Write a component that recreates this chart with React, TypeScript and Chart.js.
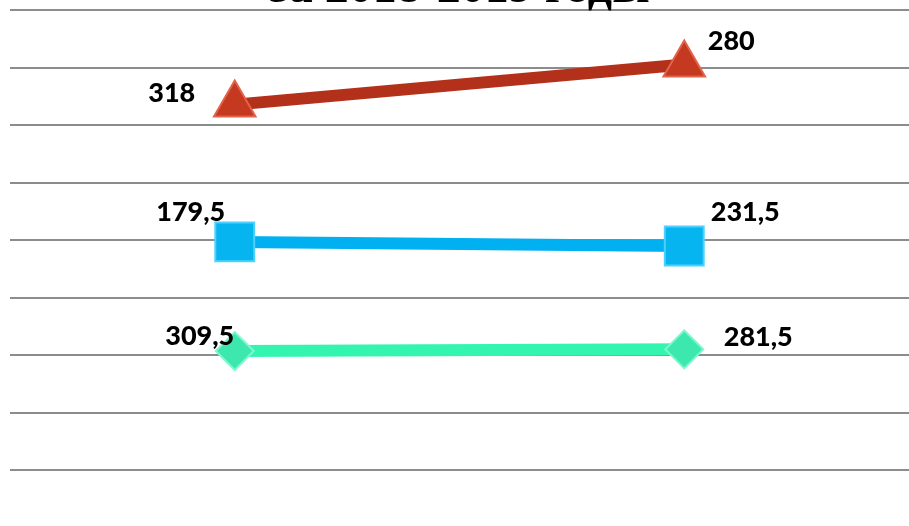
import React, { useEffect, useRef } from "react";
import { Chart, registerables } from "chart.js";

Chart.register(...registerables);

// ---- data ----
const categories = ["2018", "2019"];
const titleText = "за 2018-2019 годы";

// plotted positions (axis units 0..800)
const redValues = [636, 706];
const blueValues = [397, 390];
const greenValues = [207, 210];

// data label texts as printed on the chart
const redLabels = ["318", "280"];
const blueLabels = ["179,5", "231,5"];
const greenLabels = ["309,5", "281,5"];

const yMin = 0;
const yMax = 800;
const yStep = 100;

const HIDDEN_TOP = 60;
const CANVAS_W = 909;
const CANVAS_H = 526 + HIDDEN_TOP;

const labelPlugin = {
  id: "manualLabels",
  afterDatasetsDraw(chart: any) {
    const ctx = chart.ctx;
    ctx.save();
    ctx.font = "900 27px Lato";
    ctx.fillStyle = "#000000";
    ctx.textAlign = "center";
    ctx.textBaseline = "middle";
    chart.data.datasets.forEach((ds: any, di: number) => {
      const meta = chart.getDatasetMeta(di);
      meta.data.forEach((pt: any, i: number) => {
        const off = ds.labelOffsets[i];
        ctx.fillText(ds.labelTexts[i], pt.x + off[0], pt.y + off[1]);
      });
    });
    ctx.restore();
  },
};

export default function App() {
  const ref = useRef<HTMLCanvasElement | null>(null);

  useEffect(() => {
    if (!ref.current) return;
    const chart = new Chart(ref.current, {
      type: "line",
      data: {
        labels: categories,
        datasets: [
          {
            label: "red",
            data: redValues,
            borderColor: "#B3301B",
            backgroundColor: "#C0391F",
            borderWidth: 12,
            pointStyle: "triangle",
            pointRadius: 24,
            pointBackgroundColor: "#C4391F",
            pointBorderColor: "#E2634A",
            pointBorderWidth: 2,
            labelTexts: redLabels,
            labelOffsets: [[-63, -11], [47, -23]],
          } as any,
          {
            label: "blue",
            data: blueValues,
            borderColor: "#00B0F0",
            backgroundColor: "#00B0F0",
            borderWidth: 12,
            pointStyle: "rect",
            pointRadius: 27.5,
            pointBackgroundColor: "#06B4F0",
            pointBorderColor: "#4FD0FF",
            pointBorderWidth: 2,
            labelTexts: blueLabels,
            labelOffsets: [[-44, -30], [61, -34]],
          } as any,
          {
            label: "green",
            data: greenValues,
            borderColor: "#33F5B0",
            backgroundColor: "#33F5B0",
            borderWidth: 12,
            pointStyle: "rectRot",
            pointRadius: 19,
            pointBackgroundColor: "#3DE8AE",
            pointBorderColor: "#7FF7CF",
            pointBorderWidth: 2,
            labelTexts: greenLabels,
            labelOffsets: [[-35, -15], [74, -12]],
          } as any,
        ],
      },
      options: {
        responsive: false,
        devicePixelRatio: 1,
        animation: false,
        layout: { autoPadding: false, padding: { left: 10, right: 0, top: 0, bottom: 56 } },
        plugins: {
          legend: { display: false },
          tooltip: { enabled: false },
          title: {
            display: true,
            text: titleText,
            color: "#000000",
            font: { family: "Liberation Serif", size: 48, weight: "bold", lineHeight: 0.8 },
            padding: { top: HIDDEN_TOP - 30, bottom: 2 },
          },
        },
        scales: {
          x: {
            display: false,
            offset: true,
          },
          y: {
            min: yMin,
            max: yMax,
            ticks: { display: false, stepSize: yStep },
            border: { display: false },
            grid: { color: "#8C8C8C", lineWidth: 2, drawTicks: false },
          },
        },
      },
      plugins: [labelPlugin],
    });
    return () => chart.destroy();
  }, []);

  return (
    <div
      style={{
        position: "fixed",
        left: 0,
        top: 0,
        width: CANVAS_W,
        height: 526,
        overflow: "hidden",
        background: "#ffffff",
      }}
    >
      <canvas
        ref={ref}
        width={CANVAS_W}
        height={CANVAS_H}
        style={{ position: "absolute", left: 0, top: -HIDDEN_TOP, width: CANVAS_W, height: CANVAS_H }}
      />
    </div>
  );
}
